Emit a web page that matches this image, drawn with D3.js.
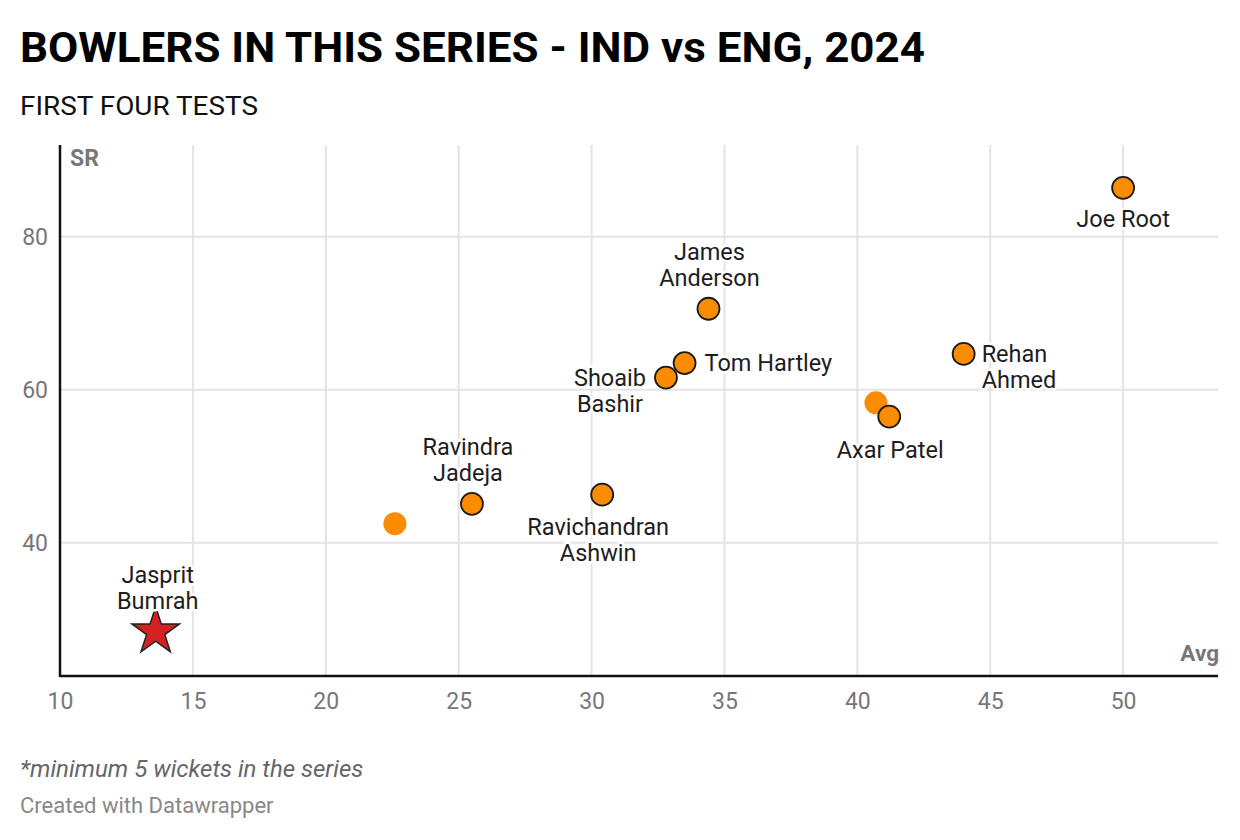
<!DOCTYPE html>
<html><head><meta charset="utf-8">
<script src="https://cdn.jsdelivr.net/npm/d3@7"></script>
<style>
body{margin:0;background:#fff;font-family:Roboto,"Noto Sans",sans-serif;}
</style></head>
<body><svg id="c" width="1240" height="840"></svg>
<script>
// data
const players = ["Joe Root","James Anderson","Tom Hartley","Shoaib Bashir","Rehan Ahmed","","Axar Patel","Ravindra Jadeja","","Ravichandran Ashwin","Jasprit Bumrah"];
const avg = [50.0, 34.4, 33.5, 32.8, 44.0, 40.7, 41.2, 25.5, 22.6, 30.4, 13.6];
const sr  = [86.4, 70.6, 63.5, 61.6, 64.7, 58.3, 56.5, 45.1, 42.5, 46.3, 28.4];
const xTicks = [10,15,20,25,30,35,40,45,50];
const yTicks = [40,60,80];

// label placement (style)
const place = {
 "Joe Root":{anchor:"middle",dx:0,dy:[39]},
 "James Anderson":{anchor:"middle",dx:1,dy:[-49,-23]},
 "Tom Hartley":{anchor:"start",dx:20,dy:[8]},
 "Shoaib Bashir":{anchor:"middle",dx:-56,dy:[8,34]},
 "Rehan Ahmed":{anchor:"start",dx:18,dy:[8,34]},
 "Axar Patel":{anchor:"middle",dx:1,dy:[41]},
 "Ravindra Jadeja":{anchor:"middle",dx:-4,dy:[-49,-23]},
 "Ravichandran Ashwin":{anchor:"middle",dx:-4,dy:[40,66]},
 "Jasprit Bumrah":{anchor:"middle",dx:2,dy:[-49,-23]}
};

const svg = d3.select("#c");
const m = {l:60,r:1218,t:145,b:676};
const x = d3.scaleLinear().domain([10,53.57]).range([m.l,m.r]);
const y = d3.scaleLinear().domain([22.6,92]).range([m.b,m.t]);

// title
svg.append("text").attr("x",20).attr("y",62).attr("font-size",43).attr("font-weight",700).attr("fill","#000")
 .text("BOWLERS IN THIS SERIES - IND vs ENG, 2024")
 .attr("textLength",905).attr("lengthAdjust","spacingAndGlyphs");
svg.append("text").attr("x",20).attr("y",115).attr("font-size",25).attr("fill","#111").text("FIRST FOUR TESTS")
 .attr("textLength",238).attr("lengthAdjust","spacingAndGlyphs");

// grid
svg.append("g").selectAll("line").data(xTicks.slice(1)).join("line")
 .attr("x1",d=>x(d)).attr("x2",d=>x(d)).attr("y1",m.t).attr("y2",m.b)
 .attr("stroke","#e4e4e4").attr("stroke-width",2);
svg.append("g").selectAll("line").data(yTicks).join("line")
 .attr("x1",m.l).attr("x2",m.r).attr("y1",d=>y(d)).attr("y2",d=>y(d))
 .attr("stroke","#e4e4e4").attr("stroke-width",2);

// axes
const xa = svg.append("g").attr("transform",`translate(0,${m.b})`)
 .call(d3.axisBottom(x).tickValues(xTicks).tickSize(0).tickPadding(17));
xa.select(".domain").remove();
xa.selectAll("text").attr("font-size",23).attr("fill","#777").attr("font-family","Roboto");
const ya = svg.append("g").attr("transform",`translate(${m.l},0)`)
 .call(d3.axisLeft(y).tickValues(yTicks).tickSize(0).tickPadding(12));
ya.select(".domain").remove();
ya.selectAll("text").attr("font-size",23).attr("fill","#777").attr("font-family","Roboto");

svg.append("line").attr("x1",m.l).attr("x2",m.l).attr("y1",m.t).attr("y2",m.b+1).attr("stroke","#111").attr("stroke-width",2.5);
svg.append("line").attr("x1",m.l).attr("x2",m.r).attr("y1",m.b).attr("y2",m.b).attr("stroke","#111").attr("stroke-width",2.5);

svg.append("text").attr("x",70).attr("y",166).attr("font-size",23).attr("font-weight",700).attr("fill","#777").text("SR");
svg.append("text").attr("x",1219).attr("y",661).attr("text-anchor","end").attr("font-size",22.5).attr("font-weight",700).attr("fill","#777").text("Avg");

// points
const data = players.map((p,i)=>({name:p,avg:avg[i],sr:sr[i]}));
const g = svg.append("g");
data.forEach(d=>{
  const cx=x(d.avg), cy=y(d.sr);
  if(d.name==="Jasprit Bumrah"){
    const star = d3.symbol().type(d3.symbolStar).size(700);
    g.append("path").attr("d",star()).attr("transform",`translate(${cx},${cy})`)
     .attr("fill","#d42222").attr("stroke","#222").attr("stroke-width",1.5);
  } else if(d.name===""){
    g.append("circle").attr("cx",cx).attr("cy",cy).attr("r",11.5).attr("fill","#fb8c00");
  } else {
    g.append("circle").attr("cx",cx).attr("cy",cy).attr("r",11).attr("fill","#fb8c00").attr("stroke","#1a1a1a").attr("stroke-width",1.8);
  }
});
g.selectAll("circle").filter(function(){return !this.getAttribute("stroke");}).lower();

// labels
const lg = svg.append("g");
data.filter(d=>d.name && place[d.name]).forEach(d=>{
  const p = place[d.name];
  const parts = p.dy.length===2 ? d.name.split(" ") : [d.name];
  parts.forEach((s,k)=>{
    lg.append("text").attr("x",x(d.avg)+p.dx).attr("y",y(d.sr)+p.dy[k])
      .attr("text-anchor",p.anchor).attr("font-size",23.5).attr("fill","#1d1d1d")
      .attr("stroke","#fff").attr("stroke-width",5).attr("paint-order","stroke").attr("stroke-linejoin","round")
      .text(s);
  });
});

// footer
svg.append("text").attr("x",20).attr("y",777).attr("font-size",24).attr("font-style","italic").attr("fill","#666").text("*minimum 5 wickets in the series");
svg.append("text").attr("x",20).attr("y",813).attr("font-size",22).attr("fill","#888").text("Created with Datawrapper");
</script></body></html>
